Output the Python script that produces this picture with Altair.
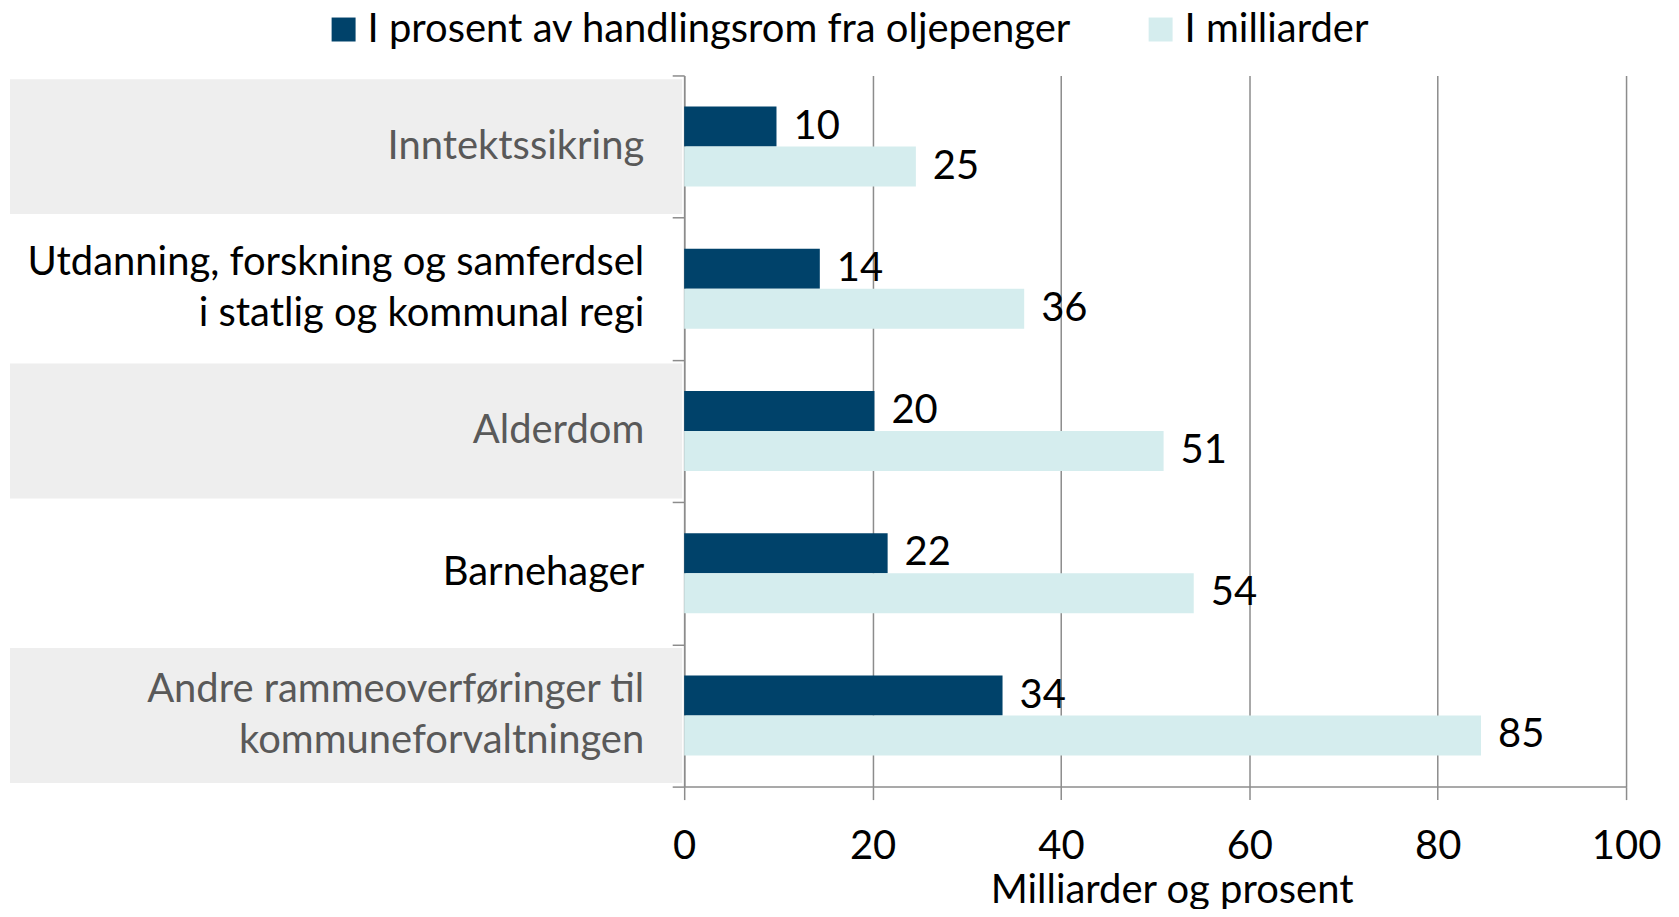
import altair as alt
import pandas as pd

# ---- data ----
categories = [
    "Inntektssikring",
    "Utdanning, forskning og samferdsel\ni statlig og kommunal regi",
    "Alderdom",
    "Barnehager",
    "Andre rammeoverføringer til\nkommuneforvaltningen",
]
series = ["I prosent av handlingsrom fra oljepenger", "I milliarder"]
pct_values = [9.8, 14.4, 20.2, 21.6, 33.8]
bn_values = [24.6, 36.1, 50.9, 54.1, 84.6]
x_ticks = [0, 20, 40, 60, 80, 100]
x_title = "Milliarder og prosent"

# ---- styles ----
colors = ["#00426A", "#D5EDEE"]
FONT = "Lato"
FS = 40
LH = 51
GRID = "#8C8C8C"

rows = []
for c, p, b in zip(categories, pct_values, bn_values):
    rows.append({"category": c, "series": series[0], "value": p})
    rows.append({"category": c, "series": series[1], "value": b})
df_bars = pd.DataFrame(rows)
df_cats = pd.DataFrame({"category": categories,
                        "shaded": [i % 2 == 0 for i in range(len(categories))]})

y_axis = alt.Axis(labels=False, ticks=True, tickBand="extent", tickSize=12,
                  tickColor=GRID, tickWidth=1.5, domain=True, domainColor=GRID,
                  domainWidth=1.5, grid=False, title=None)
y_enc = alt.Y("category:N", sort=categories,
              scale=alt.Scale(paddingInner=0, paddingOuter=0), axis=y_axis)
yoff = alt.YOffset("series:N", sort=series,
                   scale=alt.Scale(paddingInner=0, paddingOuter=0.78))

x_enc = alt.X("value:Q", scale=alt.Scale(domain=[0, 100], nice=False),
              axis=alt.Axis(values=x_ticks, grid=True, gridColor=GRID, gridWidth=1.5,
                            domainColor=GRID, domainWidth=1.5, tickColor=GRID,
                            tickWidth=1.5, tickSize=13, labelFont=FONT,
                            labelFontSize=FS, labelColor="#000000", labelPadding=27,
                            labelFlush=False,
                            title=x_title, titleFont=FONT, titleFontSize=FS,
                            titleFontWeight="normal", titleColor="#000000",
                            titlePadding=4, titleX=488))

bands = alt.Chart(df_cats).transform_filter("datum.shaded").mark_bar(
    color="#EEEEEE", height=135, orient="horizontal").encode(
    y=y_enc, x=alt.value(-675), x2=alt.value(-2))

cat_color = alt.condition("datum.shaded", alt.value("#595959"), alt.value("#000000"))

cat_text_single = alt.Chart(df_cats).transform_filter(
    "indexof(datum.category, '\\n') < 0").mark_text(
    align="right", baseline="middle", font=FONT, fontSize=FS).encode(
    y=y_enc, x=alt.value(-40), text="category:N", color=cat_color)

cat_text_multi = alt.Chart(df_cats).transform_filter(
    "indexof(datum.category, '\\n') >= 0").mark_text(
    align="right", baseline="middle", lineBreak="\n", font=FONT,
    fontSize=FS, lineHeight=LH, dy=-LH / 2).encode(
    y=y_enc, x=alt.value(-40), text="category:N", color=cat_color)

bars = alt.Chart(df_bars).mark_bar().encode(
    y=y_enc, yOffset=yoff, x=x_enc,
    color=alt.Color("series:N", sort=series,
                    scale=alt.Scale(domain=series, range=colors),
                    legend=alt.Legend(orient="none", legendX=-361, legendY=-66,
                                      direction="horizontal", title=None,
                                      symbolType="square", symbolSize=576,
                                      symbolStrokeWidth=0, labelFont=FONT,
                                      labelFontSize=FS, labelColor="#000000",
                                      labelOffset=4, columnPadding=69,
                                      labelLimit=2000)))

bar_text = alt.Chart(df_bars).mark_text(
    align="left", baseline="middle", dx=17, font=FONT, fontSize=FS,
    color="#000000").encode(
    y=y_enc, yOffset=yoff, x=x_enc,
    text=alt.Text("value:Q", format=".0f"))

chart = alt.layer(bands, cat_text_single, cat_text_multi, bars, bar_text).properties(
    width=943, height=712,
    autosize=alt.AutoSizeParams(type="none"),
    padding={"left": 677, "top": 67, "right": 45, "bottom": 122},
).configure_view(stroke=None)

chart.save("out.html", embed_options={"renderer": "svg", "actions": False})
